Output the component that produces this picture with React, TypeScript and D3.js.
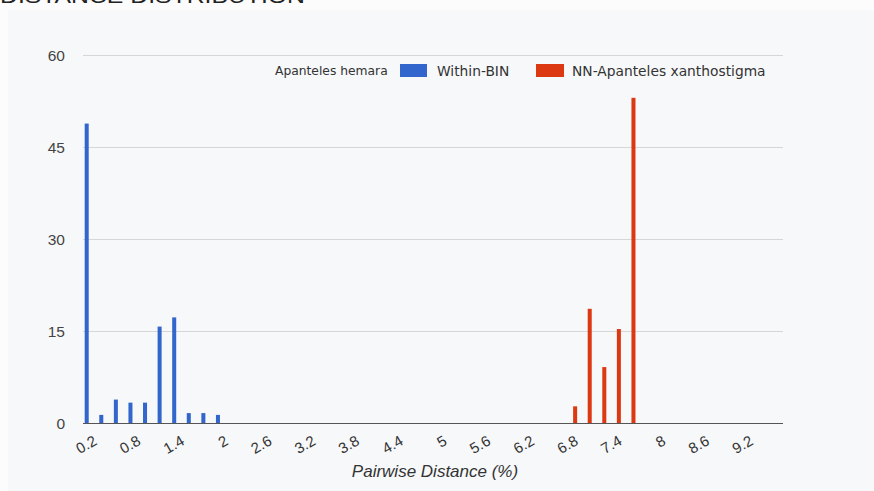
import React from "react";
import * as d3 from "d3";

const categories = [
  "0.2","0.4","0.6","0.8","1","1.2","1.4","1.6","1.8","2",
  "2.2","2.4","2.6","2.8","3","3.2","3.4","3.6","3.8","4",
  "4.2","4.4","4.6","4.8","5","5.2","5.4","5.6","5.8","6",
  "6.2","6.4","6.6","6.8","7","7.2","7.4","7.6","7.8","8",
  "8.2","8.4","8.6","8.8","9","9.2","9.4","9.6",
];
const tickLabels = ["0.2","0.8","1.4","2","2.6","3.2","3.8","4.4","5","5.6","6.2","6.8","7.4","8","8.6","9.2"];
const yTicks = [0, 15, 30, 45, 60];

const seriesNames = ["Within-BIN", "NN-Apanteles xanthostigma"];
const withinBins = ["0.2","0.4","0.6","0.8","1","1.2","1.4","1.6","1.8","2"];
const withinValues = [48.9, 1.4, 3.9, 3.4, 3.4, 15.8, 17.3, 1.7, 1.7, 1.4];
const nnBins = ["6.8","7","7.2","7.4","7.6"];
const nnValues = [2.8, 18.7, 9.2, 15.4, 53.1];

const colors = ["#3366cc", "#dc3912"];

const W = 874, H = 491;
const left = 83, right = 783, top = 55.5, bottom = 423.5;

export default function App() {
  const x = d3.scaleBand<string>().domain(categories).range([left, right]).padding(0);
  const bw = x.bandwidth();
  const inner = d3.scaleBand<string>().domain(seriesNames).range([bw * 0.116, bw * 0.884]).paddingInner(0.44);
  const y = d3.scaleLinear().domain([0, 60]).range([bottom, top]);

  const bars: { s: number; bin: string; v: number }[] = [];
  withinBins.forEach((b, i) => bars.push({ s: 0, bin: b, v: withinValues[i] }));
  nnBins.forEach((b, i) => bars.push({ s: 1, bin: b, v: nnValues[i] }));

  const font = "Arial, 'Liberation Sans', sans-serif";
  const lfont = "'DejaVu Sans', Verdana, sans-serif";

  return (
    <div style={{ position: "fixed", left: 0, top: 0 }}>
      <svg width={W} height={H} style={{ display: "block" }}>
        <rect x={0} y={0} width={W} height={H} fill="#fcfcfd" />
        <rect x={8} y={10} width={W - 8} height={H - 10} fill="#f7f8fa" />
        <text x={0} y={3} fontFamily={font} fontSize={21} fill="#222" textLength={305} lengthAdjust="spacingAndGlyphs">
          DISTANCE DISTRIBUTION
        </text>
        {yTicks.map((t) => (
          <g key={t}>
            {t !== 0 && <line x1={left} x2={right} y1={y(t)} y2={y(t)} stroke="#d6d6d6" strokeWidth={1} />}
            <text x={65} y={y(t)} dy="0.35em" textAnchor="end" fontFamily={font} fontSize={15.5} fill="#444">
              {t}
            </text>
          </g>
        ))}
        {bars.map((d, i) => (
          <rect
            key={i}
            x={(x(d.bin) as number) + (inner(seriesNames[d.s]) as number)}
            y={y(d.v)}
            width={inner.bandwidth()}
            height={y(0) - y(d.v)}
            fill={colors[d.s]}
          />
        ))}
        <line x1={left} x2={right} y1={bottom} y2={bottom} stroke="#555" strokeWidth={1.2} />
        {tickLabels.map((t) => {
          const cx = (x(t) as number) + bw / 2;
          return (
            <text
              key={t}
              transform={`translate(${cx + 2},${434}) rotate(-30)`}
              dy="0.75em"
              textAnchor="end"
              fontFamily={font}
              fontSize={15}
              fill="#333"
            >
              {t}
            </text>
          );
        })}
        <text x={435} y={477} textAnchor="middle" fontFamily={font} fontSize={17} fontStyle="italic" fill="#333">
          Pairwise Distance (%)
        </text>
        <g fontFamily={lfont} fill="#333">
          <text x={275} y={71} dy="0.35em" fontSize={12.3}>Apanteles hemara</text>
          <rect x={400} y={64} width={27} height={13} fill={colors[0]} />
          <text x={437} y={71} dy="0.35em" fontSize={13.8}>{seriesNames[0]}</text>
          <rect x={536} y={64} width={28} height={13} fill={colors[1]} />
          <text x={572} y={71} dy="0.35em" fontSize={13.8}>{seriesNames[1]}</text>
        </g>
      </svg>
    </div>
  );
}
